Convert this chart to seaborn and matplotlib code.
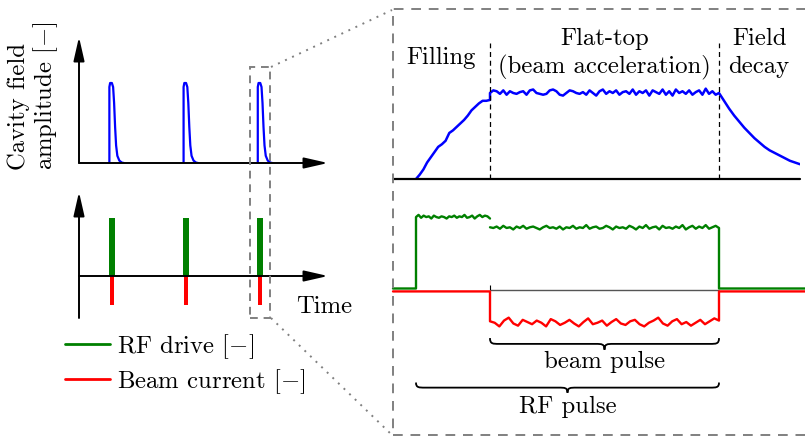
import numpy as np
import pandas as pd
import matplotlib
matplotlib.use("Agg")
import matplotlib.pyplot as plt
import seaborn as sns
from matplotlib.patches import Rectangle, PathPatch
from matplotlib.path import Path
from matplotlib.lines import Line2D

sns.set_style("white")
plt.rcParams["font.family"] = ["cmr10", "DejaVu Serif"]
plt.rcParams["mathtext.fontset"] = "cm"
plt.rcParams["axes.unicode_minus"] = False
plt.rcParams["axes.formatter.use_mathtext"] = True
plt.rcParams["text.color"] = "black"

# ---------------- data ----------------
# overview: pulse train (arbitrary time units)
pulse_starts = [1.22, 4.20, 7.18]
pulse_shape_dt = [0.0, 0.0, 0.03, 0.10, 0.15, 0.19, 0.23, 0.27, 0.32, 0.40, 0.50, 0.58]
pulse_shape_amp = [0.0, 0.95, 1.0, 1.0, 0.95, 0.75, 0.45, 0.22, 0.09, 0.03, 0.005, 0.0]
bar_delay = 0.10
rf_drive_level = 1.0
beam_current_level = -0.5

# zoomed pulse
t_start, t_rf_on, t_beam_on, t_off, t_end = -0.23, 0.0, 0.74, 3.03, 3.89
t_decay_end = 3.84

fill_amp = [0.00, 0.05, 0.11, 0.19, 0.25, 0.31, 0.37, 0.40, 0.44, 0.53, 0.56,
            0.60, 0.64, 0.68, 0.73, 0.79, 0.83, 0.87, 0.90, 0.90, 0.91]
flat_amp = [0.99, 1.02, 1.01, 0.98, 1.02, 0.97, 1.01, 0.99, 0.98, 1.00,
            1.01, 0.97, 1.02, 1.03, 0.99, 0.98, 0.97, 0.98, 1.02, 1.03,
            1.01, 0.97, 0.96, 0.99, 1.02, 1.01, 0.99, 0.98, 1.00, 0.97,
            1.02, 0.99, 0.96, 1.01, 1.03, 0.98, 1.01, 0.99, 1.02, 0.97,
            1.00, 1.01, 0.98, 1.03, 0.97, 1.01, 0.99, 1.02, 0.96, 1.02,
            1.00, 0.98, 1.03, 0.97, 1.01, 0.96, 1.03, 0.99, 1.01, 0.98,
            1.02, 0.97, 1.00, 1.02, 0.97, 1.04, 0.98, 1.01, 0.97, 0.99]
decay_amp = [0.99, 0.90, 0.81, 0.73, 0.66, 0.59, 0.53, 0.47, 0.42, 0.37,
             0.33, 0.30, 0.27, 0.24, 0.21, 0.19, 0.17]

rf_idle = 0.02
beam_idle = -0.02
rf_fill = [1.00, 1.03, 0.99, 1.02, 1.00, 1.01, 0.98, 1.02, 1.00, 0.99,
           1.01, 1.00, 0.98, 1.01, 1.00, 1.02, 0.99, 1.01, 1.00, 1.03,
           0.99, 1.00, 1.02, 0.98, 1.01, 1.03, 1.00, 1.02, 1.01, 0.98]
rf_beam = [0.86, 0.85, 0.87, 0.84, 0.88, 0.85, 0.86, 0.83, 0.87, 0.85,
           0.88, 0.84, 0.86, 0.87, 0.85, 0.83, 0.86, 0.88, 0.85, 0.86,
           0.84, 0.87, 0.83, 0.86, 0.85, 0.88, 0.84, 0.86, 0.85, 0.89,
           0.84, 0.86, 0.87, 0.84, 0.85, 0.88, 0.86, 0.83, 0.87, 0.85,
           0.86, 0.84, 0.88, 0.86, 0.83, 0.87, 0.85, 0.89, 0.84, 0.86,
           0.87, 0.83, 0.88, 0.85, 0.86, 0.84, 0.87, 0.85, 0.89, 0.83,
           0.86, 0.88, 0.84, 0.87, 0.85, 0.89, 0.84, 0.86, 0.88, 0.85]
beam_on = [-0.43, -0.45, -0.50, -0.42, -0.38, -0.46, -0.49, -0.41, -0.44, -0.47,
           -0.42, -0.45, -0.50, -0.40, -0.43, -0.48, -0.45, -0.41, -0.46, -0.50,
           -0.44, -0.39, -0.47, -0.45, -0.42, -0.49, -0.44, -0.40, -0.46, -0.48,
           -0.43, -0.41, -0.47, -0.50, -0.45, -0.42, -0.38, -0.46, -0.49, -0.43,
           -0.40, -0.47, -0.44, -0.49, -0.45, -0.41, -0.47, -0.43, -0.39, -0.42]

BLUE, GREEN, RED, GREY = "#0000ff", "#008000", "#ff0000", "#808080"
FS = 17.8

# ---------------- figure ----------------
W, H = 805, 438
fig = plt.figure(figsize=(W / 100, H / 100), dpi=100)


def px_axes(x0, y0, x1, y1):
    ax = fig.add_axes([x0 / W, 1 - y1 / H, (x1 - x0) / W, (y1 - y0) / H])
    ax.set_axis_off()
    return ax


def ftext(x, y, s, **kw):
    kw.setdefault("fontsize", FS)
    kw.setdefault("color", "black")
    fig.text(x / W, 1 - y / H, s, **kw)


def arrow(ax, xy, xytext, coords):
    ax.annotate("", xy=xy, xytext=xytext, xycoords=coords, textcoords=coords,
                arrowprops=dict(arrowstyle="-|>,head_length=1.45,head_width=0.33",
                                mutation_scale=10, color="black", lw=1.4,
                                shrinkA=0, shrinkB=0), annotation_clip=False)


def brace(ax, x0, x1, y_top, y_tip, r):
    ym = (y_top + y_tip) / 2
    xm = (x0 + x1) / 2
    verts = [(x0, y_top), (x0, ym), (x0 + 0.3 * r, ym), (x0 + r, ym),
             (xm - r, ym),
             (xm - 0.3 * r, ym), (xm, ym), (xm, y_tip),
             (xm, ym), (xm + 0.3 * r, ym), (xm + r, ym),
             (x1 - r, ym),
             (x1 - 0.3 * r, ym), (x1, ym), (x1, y_top)]
    codes = [Path.MOVETO, Path.CURVE4, Path.CURVE4, Path.CURVE4,
             Path.LINETO,
             Path.CURVE4, Path.CURVE4, Path.CURVE4,
             Path.CURVE4, Path.CURVE4, Path.CURVE4,
             Path.LINETO,
             Path.CURVE4, Path.CURVE4, Path.CURVE4]
    ax.add_patch(PathPatch(Path(verts, codes), fill=False, lw=1.3,
                           ec="black", clip_on=False))


# ---- overview: cavity field ----
ax_tl = px_axes(79, 37, 328, 163)
ax_tl.set_xlim(0, 10)
ax_tl.set_ylim(0, 1.575)
rows = []
for i, s in enumerate(pulse_starts):
    for dt, a in zip(pulse_shape_dt, pulse_shape_amp):
        rows.append({"t": s + dt, "amp": a, "pulse": i})
df_tl = pd.DataFrame(rows)
sns.lineplot(data=df_tl, x="t", y="amp", units="pulse", estimator=None,
             sort=False, color=BLUE, lw=1.6, ax=ax_tl)
arrow(ax_tl, (1, 0), (0, 0), "axes fraction")
arrow(ax_tl, (0, 1), (0, 0), "axes fraction")

# ---- overview: RF drive / beam current ----
ax_bl = px_axes(79, 192, 328, 318)
ax_bl.set_xlim(0, 10)
ax_bl.set_ylim(-0.724, 1.448)
bar_x = [s + bar_delay for s in pulse_starts]
ax_bl.bar(bar_x, [rf_drive_level] * len(bar_x), width=0.24, color=GREEN, lw=0)
ax_bl.bar(bar_x, [beam_current_level] * len(bar_x), width=0.16, color=RED, lw=0)
arrow(ax_bl, (0, 1), (0, 0), "axes fraction")
arrow(ax_bl, (1, 0), (0, 0), ("axes fraction", "data"))
ftext(324, 313, "Time", ha="center", va="baseline")

# ---- zoom box & connectors ----
fig.add_artist(Rectangle((250 / W, 1 - 318 / H), 20 / W, 251 / H,
                         transform=fig.transFigure, fill=False, ec=GREY,
                         lw=1.4, ls=(0, (4, 3))))
fig.add_artist(Rectangle((393 / W, 1 - 435 / H), 420 / W, 426 / H,
                         transform=fig.transFigure, fill=False, ec=GREY,
                         lw=1.4, ls=(0, (5, 4))))
fig.add_artist(Line2D([271 / W, 392 / W], [1 - 67 / H, 1 - 10 / H],
                      transform=fig.transFigure, color=GREY, lw=1.4,
                      ls=(0, (1, 3))))
fig.add_artist(Line2D([271 / W, 392 / W], [1 - 318 / H, 1 - 435 / H],
                      transform=fig.transFigure, color=GREY, lw=1.4,
                      ls=(0, (1, 3))))

# ---- zoomed: cavity field ----
ax_tr = px_axes(393, 20, 800, 179)
ax_tr.set_xlim(t_start, t_decay_end)
ax_tr.set_ylim(0, 1.83)
t_blue = np.concatenate([np.linspace(t_rf_on, t_beam_on, len(fill_amp)),
                         np.linspace(t_beam_on, t_off, len(flat_amp)),
                         np.linspace(t_off, t_decay_end, len(decay_amp))])
df_blue = pd.DataFrame({"t": t_blue, "amp": fill_amp + flat_amp + decay_amp})
sns.lineplot(data=df_blue, x="t", y="amp", estimator=None, sort=False,
             color=BLUE, lw=1.8, ax=ax_tr)
ax_tr.axhline(0, color="black", lw=1.6, clip_on=False)
ax_tr.vlines([t_beam_on, t_off], 0, 1.56, colors="black", lw=0.9,
             linestyles=(0, (4, 3)))
ftext(441, 64, "Filling", ha="center", va="baseline")
ftext(605, 45, "Flat-top", ha="center", va="baseline")
ftext(604, 73, "(beam acceleration)", ha="center", va="baseline")
ftext(760, 45, "Field", ha="center", va="baseline")
ftext(759, 73, "decay", ha="center", va="baseline")

# ---- zoomed: RF drive / beam current ----
ax_br = px_axes(393, 185, 805, 435)
ax_br.set_xlim(t_start, t_end)
ax_br.set_ylim(-1.99, 1.44)
ax_br.hlines(0, t_beam_on, t_off, color="#555555", lw=1.0)
ax_br.vlines(t_beam_on, 0, 0.07, color="black", lw=0.8)

t_fill = np.linspace(t_rf_on, t_beam_on, len(rf_fill))
t_beam = np.linspace(t_beam_on, t_off, len(rf_beam))
df_green = pd.DataFrame({
    "t": np.concatenate([[t_start, t_rf_on], t_fill, t_beam, [t_off, t_end]]),
    "amp": [rf_idle, rf_idle] + rf_fill + rf_beam + [rf_idle, rf_idle],
    "seg": [0] * (2 + len(rf_fill)) + [1] * (len(rf_beam) + 2),
})
t_bc = np.linspace(t_beam_on, t_off, len(beam_on))
df_red = pd.DataFrame({
    "t": np.concatenate([[t_start, t_beam_on], t_bc, [t_off, t_end]]),
    "amp": [beam_idle, beam_idle] + beam_on + [beam_idle, beam_idle],
})
sns.lineplot(data=df_red, x="t", y="amp", estimator=None, sort=False,
             color=RED, lw=1.7, ax=ax_br)
sns.lineplot(data=df_green, x="t", y="amp", units="seg", estimator=None,
             sort=False, color=GREEN, lw=1.7, ax=ax_br)
for ln in ax_br.get_lines():
    ln.set_clip_on(False)

brace(ax_br, t_beam_on, t_off, -0.66, -0.82, 0.09)
brace(ax_br, t_rf_on, t_off, -1.27, -1.41, 0.09)
ftext(605, 368, "beam pulse", ha="center", va="baseline")
ftext(568, 413, "RF pulse", ha="center", va="baseline")

# ---- y label and legend ----
ftext(7, 170, "Cavity field\namplitude $[-]$", rotation=90, ha="left",
      va="bottom", multialignment="left", linespacing=1.1)
handles = [Line2D([], [], color=GREEN, lw=2.0), Line2D([], [], color=RED, lw=2.0)]
leg = fig.legend(handles, ["RF drive $[-]$", "Beam current $[-]$"],
                 loc="upper left", bbox_to_anchor=(65 / W, 1 - 332 / H),
                 frameon=False, fontsize=FS, handlelength=1.8, handletextpad=0.3,
                 labelspacing=0.25, borderpad=0, borderaxespad=0)
for txt in leg.get_texts():
    txt.set_color("black")

fig.savefig("out.png", dpi=100)
